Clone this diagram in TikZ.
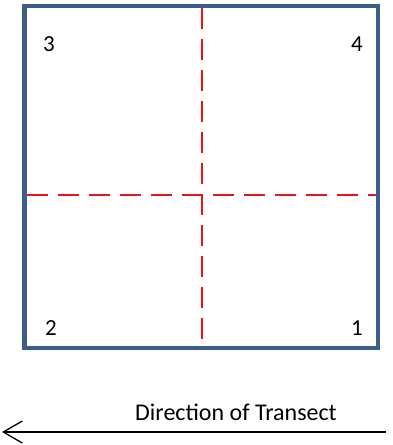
\documentclass[tikz,border=0pt]{standalone}
\usepackage{fontspec}
\setmainfont{Carlito}
\usetikzlibrary{arrows.meta}
\definecolor{frameblue}{RGB}{59,94,140}
\definecolor{gridred}{RGB}{235,20,20}

\begin{document}
\begin{tikzpicture}[x=1pt,y=-1pt,>=Latex]
  \tikzset{
    quadlabel/.style={font=\fontsize{23}{26}\selectfont,inner sep=0pt},
    splitline/.style={gridred,line width=2.4pt,dash pattern=on 21pt off 10pt},
  }
  \useasboundingbox (0,0) rectangle (392,445);
  % plot frame
  \draw[frameblue,line width=4.5pt] (24.5,6) rectangle (378,348);
  % quarter lines
  \coordinate (vtop) at (202,8);
  \coordinate (vbot) at (202,346);
  \coordinate (hleft) at (27,195);
  \coordinate (hright) at (376,195);
  \draw[splitline] (vtop) -- (vbot);
  \draw[splitline] (hleft) -- (hright);
  % quadrant numbers
  \node[quadlabel] (q3) at (49,44) {3};
  \node[quadlabel] (q4) at (357,44) {4};
  \node[quadlabel] (q2) at (51,328) {2};
  \node[quadlabel] (q1) at (357,328) {1};
  % transect direction
  \node[font=\fontsize{24}{27}\selectfont] (dirlabel) at (236,412) {Direction of Transect};
  \coordinate (arrstart) at (386,432);
  \coordinate (arrend) at (2,432);
  \draw[line width=1.3pt,-{Straight Barb[length=19pt,width=22pt]}] (arrstart) -- (arrend);
\end{tikzpicture}
\end{document}
